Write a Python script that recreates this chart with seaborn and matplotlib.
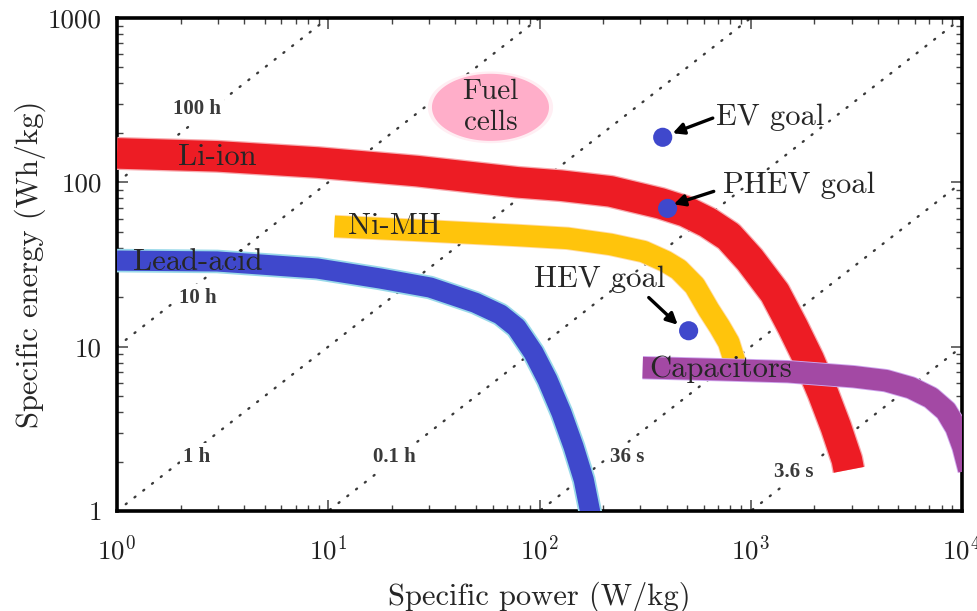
import numpy as np
import pandas as pd
import matplotlib
matplotlib.use("Agg")
import matplotlib.pyplot as plt
import seaborn as sns
from matplotlib.ticker import FixedLocator, FixedFormatter, LogLocator, NullFormatter

# ---------------- data ----------------
li_power = [1.0, 2.98, 8.87, 26.4, 78.7, 126, 217, 374, 492, 626, 787, 989,
            1300, 1581, 1884, 2194, 2528, 2851, 2912]
li_energy = [150, 144, 132, 117, 100, 95.5, 88.1, 74.5, 66.5, 57.0, 46.9, 33.9,
             21.3, 13.2, 8.33, 5.24, 3.25, 2.05, 1.78]

nimh_power = [10.7, 26.4, 78.7, 136, 217, 311, 395, 456, 543, 632, 713, 787, 840]
nimh_energy = [53.9, 51.0, 47.5, 45.6, 41.9, 37.9, 33.0, 29.5, 23.5, 16.8, 13.2, 10.6, 8.1]

lead_power = [1.0, 2.98, 8.87, 17.6, 30.4, 49.7, 65.3, 77.8, 93.7, 109, 127, 145, 162, 175]
lead_energy = [33.4, 33.0, 29.9, 26.0, 22.9, 18.5, 15.7, 13.1, 9.19, 6.29, 3.96, 2.46, 1.55, 0.945]

cap_power = [308, 721, 1497, 3077, 4365, 5732, 7129, 8398, 9376, 10110, 10790]
cap_energy = [7.45, 7.24, 7.04, 6.56, 6.21, 5.62, 4.89, 4.07, 3.21, 2.46, 1.78]

goal_names = ["EV goal", "PHEV goal", "HEV goal"]
goal_power = [383, 404, 508]
goal_energy = [188, 69.4, 12.5]

# constant discharge-time lines (hours)
time_hours = [100, 10, 1, 0.1, 0.01, 0.001]
time_labels = ["100 h", "10 h", "1 h", "0.1 h", "36 s", "3.6 s"]
time_label_power = [2.39, 2.42, 2.39, 20.5, 261, 1600]
time_label_energy = [279, 19.9, 2.13, 2.13, 2.13, 1.73]

fuel_center = (58.6, 286)      # (W/kg, Wh/kg)
fuel_half_decades = (0.277, 0.204)

x_ticks = [1, 10, 100, 1000, 10000]
x_tick_labels = [r"$10^{0}$", r"$10^{1}$", r"$10^{2}$", r"$10^{3}$", r"$10^{4}$"]
y_ticks = [1, 10, 100, 1000]
y_tick_labels = ["1", "10", "100", "1000"]

# ---------------- style ----------------
sns.set_theme(style="ticks")
plt.rcParams["font.family"] = "serif"
plt.rcParams["font.serif"] = ["cmr10"]
plt.rcParams["mathtext.fontset"] = "cm"
plt.rcParams["axes.unicode_minus"] = False
plt.rcParams["axes.formatter.use_mathtext"] = True

fig = plt.figure(figsize=(9.77, 6.11), dpi=100)
ax = fig.add_axes([117 / 977, 1 - 511 / 611, 845 / 977, 493 / 611])
ax.set_xscale("log")
ax.set_yscale("log")
ax.set_xlim(1, 1e4)
ax.set_ylim(1, 1000)

# constant-time dotted lines
p_span = np.array([1.0, 1e4])
for h in time_hours:
    ax.plot(p_span, h * p_span, color="#3a3a3a", lw=1.7, ls=(0, (0.5, 4.2)),
            dash_capstyle="round", zorder=1)
for lab, px, ey in zip(time_labels, time_label_power, time_label_energy):
    ax.text(px, ey, lab, ha="center", va="center", fontsize=15,
            family="Liberation Serif", fontweight="bold", color="#3a3a3a", zorder=2,
            bbox=dict(facecolor="white", edgecolor="none", pad=2.5))

# fuel cell ellipse
t = np.linspace(0, 2 * np.pi, 200)
lx = np.log10(fuel_center[0])
ly = np.log10(fuel_center[1])
for scale, col in [(1.07, "#FFEEF3"), (1.0, "#FFAEC9")]:
    ax.fill(10 ** (lx + scale * fuel_half_decades[0] * np.cos(t)),
            10 ** (ly + scale * fuel_half_decades[1] * np.sin(t)),
            color=col, lw=0, zorder=2.5)
ax.text(fuel_center[0], fuel_center[1], "Fuel\ncells", ha="center", va="center",
        fontsize=21, linespacing=1.25, zorder=11)

# bands
bands = [
    (lead_power, lead_energy, "#3F48CC", "#99D9EA", 14.5, 17.0, 3),
    (nimh_power, nimh_energy, "#FFC40C", "#FFDDA8", 15.5, 16.8, 4),
    (li_power, li_energy, "#ED1C24", "#F7A9AE", 22.0, 23.8, 5),
    (cap_power, cap_energy, "#A349A4", "#CFA6EE", 15.5, 16.8, 6),
]
for pw, en, col, glow, lw, glw, z in bands:
    df = pd.DataFrame({"P": pw, "E": en})
    sns.lineplot(data=df, x="P", y="E", ax=ax, sort=False, estimator=None,
                 color=glow, lw=glw, solid_capstyle="butt", solid_joinstyle="round", zorder=z)
    sns.lineplot(data=df, x="P", y="E", ax=ax, sort=False, estimator=None,
                 color=col, lw=lw, solid_capstyle="butt", solid_joinstyle="round", zorder=z + 0.1)

# band labels
ax.text(1.95, 142, "Li-ion", ha="left", va="center", fontsize=22, zorder=11)
ax.text(12.4, 53.9, "Ni-MH", ha="left", va="center", fontsize=22, zorder=11)
ax.text(1.19, 32.5, "Lead-acid", ha="left", va="center", fontsize=22, zorder=11)
ax.text(329, 7.24, "Capacitors", ha="left", va="center", fontsize=22, zorder=11)

# goals
gdf = pd.DataFrame({"P": goal_power, "E": goal_energy, "name": goal_names})
sns.scatterplot(data=gdf, x="P", y="E", ax=ax, color="#3F48CC", s=190,
                edgecolor="none", zorder=9, legend=False)

goal_text_pos = [(683, 249), (737, 95.9), (93.7, 25.6)]
arrow_tail = [(661, 246), (668, 88.1), (329, 19.9)]
arrow_head = [(427, 199), (432, 73.5), (451, 13.6)]
for name, tp, tail, head in zip(goal_names, goal_text_pos, arrow_tail, arrow_head):
    ax.text(tp[0], tp[1], name, ha="left", va="center", fontsize=22, zorder=11)
    ax.annotate("", xy=head, xytext=tail,
                arrowprops=dict(arrowstyle="-|>,head_length=0.55,head_width=0.28",
                                color="black", lw=2.4, shrinkA=0, shrinkB=0),
                zorder=10)

# axes styling
for sp in ax.spines.values():
    sp.set_linewidth(2.6)
    sp.set_color("black")
ax.xaxis.set_major_locator(FixedLocator(x_ticks))
ax.xaxis.set_major_formatter(FixedFormatter(x_tick_labels))
ax.yaxis.set_major_locator(FixedLocator(y_ticks))
ax.yaxis.set_major_formatter(FixedFormatter(y_tick_labels))
ax.xaxis.set_minor_locator(LogLocator(base=10, subs=range(2, 10)))
ax.yaxis.set_minor_locator(LogLocator(base=10, subs=range(2, 10)))
ax.xaxis.set_minor_formatter(NullFormatter())
ax.yaxis.set_minor_formatter(NullFormatter())
ax.tick_params(which="both", direction="in", top=True, right=True, color="#444444")
ax.tick_params(which="major", length=8, width=1.1, labelsize=19.5, labelcolor="#222222")
ax.tick_params(which="minor", length=4.5, width=1.0)
ax.tick_params(axis="x", which="major", pad=17)
ax.tick_params(axis="y", which="major", pad=11)

ax.set_xlabel("Specific power (W/kg)", fontsize=22, labelpad=12)
ax.set_ylabel("Specific energy (Wh/kg)", fontsize=22, labelpad=1)

fig.savefig("out.png", dpi=100)
